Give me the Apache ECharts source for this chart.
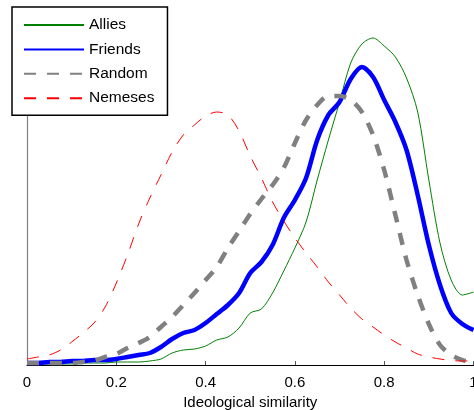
<!DOCTYPE html>
<html lang="en">
<head>
    <meta charset="UTF-8">
    <script src="https://cdn.jsdelivr.net/npm/echarts@6/dist/echarts.min.js"></script>
    <title>Ideological similarity</title>
    <style>
        html, body { margin: 0; padding: 0; background: #fff; }
    </style>
</head>
<body>
    <div id="chart_main" style="width: 474px; height: 410px"></div>
<script>

    // x positions of the density estimates (ideological similarity)
    var xValues = [];
    for (var k = 0; k <= 40; k++) {
        xValues.push(+(k * 0.025).toFixed(3));
    }

    var seriesNames = ['Allies', 'Friends', 'Random', 'Nemeses'];

    // density values, one per x position
    var allies = [0.01, 0.01, 0.01, 0.01, 0.01, 0.02, 0.02, 0.02, 0.03, 0.03,
        0.03, 0.04, 0.06, 0.12, 0.15, 0.16, 0.19, 0.25, 0.28, 0.37,
        0.52, 0.56, 0.72, 0.94, 1.17, 1.43, 1.85, 2.25, 2.63, 3.02,
        3.21, 3.27, 3.19, 3.08, 2.87, 2.53, 1.85, 1.22, 0.85, 0.70, 0.73];

    var friends = [0.02, 0.02, 0.03, 0.03, 0.04, 0.04, 0.05, 0.05, 0.06, 0.08,
        0.10, 0.12, 0.18, 0.26, 0.32, 0.35, 0.42, 0.51, 0.60, 0.72,
        0.92, 1.03, 1.20, 1.47, 1.65, 1.87, 2.25, 2.50, 2.63, 2.86,
        2.98, 2.88, 2.65, 2.43, 2.15, 1.70, 1.20, 0.80, 0.52, 0.41, 0.35];

    var random = [0.02, 0.02, 0.02, 0.02, 0.02, 0.03, 0.04, 0.08, 0.11, 0.17,
        0.22, 0.28, 0.38, 0.48, 0.60, 0.72, 0.85, 0.98, 1.17, 1.34,
        1.51, 1.66, 1.80, 1.97, 2.22, 2.45, 2.60, 2.69, 2.69, 2.65,
        2.53, 2.30, 1.95, 1.50, 1.05, 0.70, 0.41, 0.20, 0.10, 0.05, 0.02];

    var nemeses = [0.06, 0.08, 0.10, 0.15, 0.23, 0.32, 0.42, 0.58, 0.82, 1.10,
        1.41, 1.67, 1.90, 2.13, 2.30, 2.40, 2.49, 2.53, 2.50, 2.34,
        2.09, 1.87, 1.63, 1.44, 1.27, 1.12, 0.98, 0.83, 0.70, 0.57,
        0.46, 0.38, 0.30, 0.23, 0.17, 0.11, 0.08, 0.06, 0.045, 0.04, 0.04];

    var xTicks = [0, 0.2, 0.4, 0.6, 0.8, 1];

    function pairs(values) {
        var out = [];
        for (var i in values) {
            out.push([xValues[i], values[i]]);
        }
        return out;
    }

    var Chart_Main = echarts.init(document.getElementById('chart_main'), null, {renderer: 'canvas'});

    var font = '"Liberation Sans", Arial, sans-serif';

    var option = {
        animation: false,
        backgroundColor: '#ffffff',
        textStyle: { fontFamily: font },
        grid: {
            left: 27,
            right: 0.5,
            top: 11,
            bottom: 45,
            containLabel: false,
            outerBoundsMode: 'none'
        },
        legend: {
            data: seriesNames,
            orient: 'vertical',
            left: 12,
            top: 7,
            itemWidth: 60,
            itemHeight: 14,
            itemGap: 8.4,
            padding: [10, 13, 9, 11],
            backgroundColor: '#ffffff',
            borderColor: '#000000',
            borderWidth: 1.5,
            borderRadius: 0,
            itemStyle: { opacity: 0 },
            textStyle: {
                fontFamily: font,
                fontSize: 15.5,
                color: '#000000'
            },
            z: 10
        },
        xAxis: {
            type: 'value',
            min: 0,
            max: 1,
            interval: 0.2,
            name: 'Ideological similarity',
            nameLocation: 'middle',
            nameGap: 29,
            nameTextStyle: {
                fontFamily: font,
                fontSize: 15,
                color: '#000000'
            },
            splitLine: { show: false },
            axisLine: {
                lineStyle: { color: '#000000', width: 1.2 }
            },
            axisTick: {
                inside: true,
                length: 4,
                lineStyle: { color: '#555555' }
            },
            axisLabel: {
                margin: 10,
                fontFamily: font,
                fontSize: 15,
                color: '#000000',
                formatter: function (v) {
                    return xTicks.indexOf(+v.toFixed(1)) >= 0 ? String(+v.toFixed(1)) : '';
                }
            }
        },
        yAxis: {
            type: 'value',
            min: 0,
            max: 3.54,
            splitLine: { show: false },
            axisLine: {
                show: true,
                lineStyle: { color: '#808080', width: 1.2 }
            },
            axisTick: { show: false },
            axisLabel: { show: false }
        },
        series: [{
            name: 'Allies',
            type: 'line',
            data: pairs(allies),
            smooth: 0.3,
            symbol: 'none',
            color: '#008000',
            lineStyle: { color: '#008000', width: 1 }
        }, {
            name: 'Friends',
            type: 'line',
            data: pairs(friends),
            smooth: 0.3,
            symbol: 'none',
            color: '#0000ff',
            lineStyle: { color: '#0000ff', width: 4.5 }
        }, {
            name: 'Random',
            type: 'line',
            data: pairs(random),
            smooth: 0.3,
            symbol: 'none',
            color: '#808080',
            lineStyle: { color: '#808080', width: 4.5, type: [12, 11] }
        }, {
            name: 'Nemeses',
            type: 'line',
            data: pairs(nemeses),
            smooth: 0.3,
            symbol: 'none',
            color: '#ff0000',
            lineStyle: { color: '#ff0000', width: 1, type: [12, 11] }
        }]
    };

    Chart_Main.setOption(option);

</script>
</body>
</html>
